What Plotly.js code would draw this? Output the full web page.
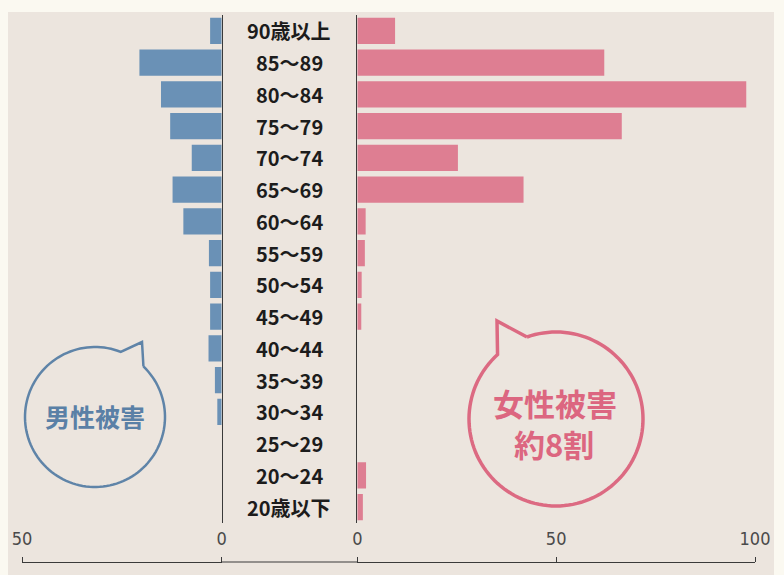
<!DOCTYPE html>
<html>
<head>
<meta charset="utf-8">
<script src="https://cdn.plot.ly/plotly-3.0.1.min.js"></script>
<style>html,body{margin:0;padding:0;background:#fbf9f1;}#chart{width:784px;height:575px;}</style>
</head>
<body>
<div id="chart"></div>
<script>
// ---- data ----
const ageGroups = ["90歳以上","85～89","80～84","75～79","70～74","65～69","60～64","55～59","50～54","45～49","40～44","35～39","30～34","25～29","20～24","20歳以下"];
const maleVictims   = [2.9, 20.6, 15.2, 12.9, 7.5, 12.3, 9.6, 3.2, 2.9, 2.9, 3.3, 1.7, 1.1, 0, 0, 0];
const femaleVictims = [9.5, 62.1, 97.8, 66.5, 25.3, 41.8, 2.1, 1.9, 1.1, 1.0, 0, 0, 0, 0, 2.2, 1.4];
const maleTicks = [0, 50];
const femaleTicks = [0, 50, 100];
const maleLabel = "男性被害";
const femaleLabel1 = "女性被害";
const femaleLabel2 = "約8割";

const W = 784, H = 575;
const X = px => px / W;
const Y = py => 1 - py / H;

const CJK = '"Noto Sans CJK JP", "Noto Sans", sans-serif';
const NUM = '"Liberation Sans Narrow", "DejaVu Sans Condensed", "Liberation Sans", sans-serif';

const traces = [
  {type:'bar', orientation:'h', x: maleVictims, y: ageGroups, xaxis:'x', yaxis:'y',
   marker:{color:'#6a91b6'}, hoverinfo:'x+y'},
  {type:'bar', orientation:'h', x: femaleVictims, y: ageGroups, xaxis:'x2', yaxis:'y2',
   marker:{color:'#de7e92'}, hoverinfo:'x+y'}
];

const yDomain = [Y(523), Y(15)];
const axisY = Y(562);
const baseX = {
  anchor:'free', position: axisY, side:'top', showline:true, linecolor:'#3a3a3a', linewidth:1.2,
  ticks:'outside', ticklen:5, tickcolor:'#3a3a3a', showgrid:false, zeroline:false,
  ticklabelstandoff: 5, tickfont:{family: NUM, size:18, color:'#4a4a4a'}, fixedrange:true
};
const baseY = {
  type:'category', categoryarray: ageGroups, range:[15.5, -0.5], domain: yDomain,
  showline:true, linecolor:'#3a3a3a', linewidth:1.5, showticklabels:false, ticks:'',
  showgrid:false, zeroline:false, fixedrange:true
};

function bubble(cx, cy, r, a1, a2, tip) {
  let pts = [];
  const n = 120;
  for (let i = 0; i <= n; i++) {
    const a = (a1 + (a2 - a1) * i / n) * Math.PI / 180;
    pts.push([cx + r * Math.cos(a), cy + r * Math.sin(a)]);
  }
  pts.push(tip);
  pts.push(pts[0]);
  return 'M ' + pts.map(p => X(p[0]).toFixed(5) + ',' + Y(p[1]).toFixed(5)).join(' L ');
}

const annotations = ageGroups.map(g => ({
  xref:'paper', yref:'y', x: X(289), y: g, text: '<b>' + g + '</b>', showarrow:false,
  xanchor:'center', yanchor:'middle', font:{family: CJK, size:20, color:'#1c1c1c'}
}));
annotations.push({xref:'paper', yref:'paper', x:X(95), y:Y(416), text:'<b>'+maleLabel+'</b>',
  showarrow:false, xanchor:'center', yanchor:'middle', font:{family:CJK, size:25, color:'#5a80a6'}});
annotations.push({xref:'paper', yref:'paper', x:X(555), y:Y(402), text:'<b>'+femaleLabel1+'</b>',
  showarrow:false, xanchor:'center', yanchor:'middle', font:{family:CJK, size:31, color:'#dc6680'}});
annotations.push({xref:'paper', yref:'paper', x:X(554), y:Y(443), text:'<b>'+femaleLabel2+'</b>',
  showarrow:false, xanchor:'center', yanchor:'middle', font:{family:CJK, size:31, color:'#dc6680'}});

const shapes = [
  {type:'rect', xref:'paper', yref:'paper', x0:X(8), x1:X(774), y0:0, y1:Y(12), layer:'below',
   fillcolor:'#ece5de', line:{width:0}},
  {type:'line', xref:'paper', yref:'paper', x0:X(221.7), x1:X(357.3), y0:axisY, y1:axisY,
   line:{color:'#3a3a3a', width:1.2}},
  {type:'path', xref:'paper', yref:'paper', path: bubble(95, 417, 70, -46.2, 291.6, [142, 342]),
   line:{color:'#5f84a8', width:2.5}, fillcolor:'rgba(0,0,0,0)'},
  {type:'path', xref:'paper', yref:'paper', path: bubble(556, 419, 87, 250.5, 587.8, [497, 321]),
   line:{color:'#dc6a82', width:3.5}, fillcolor:'rgba(0,0,0,0)'}
];

const layout = {
  width: W, height: H, margin:{l:0, r:0, t:0, b:0},
  paper_bgcolor:'#fbf9f1', plot_bgcolor:'rgba(0,0,0,0)',
  showlegend:false, bargap:0.18,
  xaxis: Object.assign({}, baseX, {domain:[X(22), X(221.7)], range:[50, 0], tickvals: maleTicks}),
  xaxis2: Object.assign({}, baseX, {domain:[X(357.3), X(755)], range:[0, 100], tickvals: femaleTicks}),
  yaxis: Object.assign({}, baseY, {anchor:'x', side:'right'}),
  yaxis2: Object.assign({}, baseY, {anchor:'x2', side:'left'}),
  annotations: annotations,
  shapes: shapes
};

Plotly.newPlot('chart', traces, layout, {displayModeBar:false, staticPlot:true});
</script>
</body>
</html>
